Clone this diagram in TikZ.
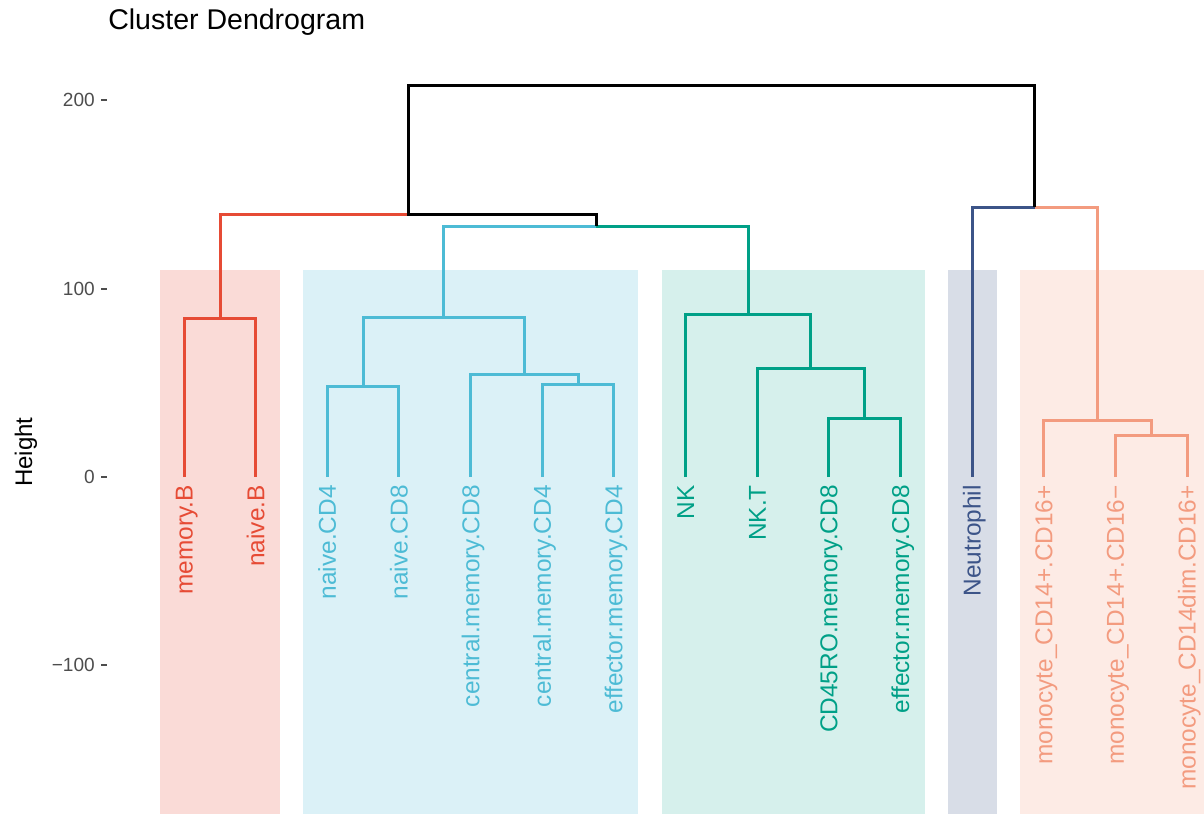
\documentclass[tikz,border=0pt]{standalone}
\usepackage{fontspec}
\setmainfont{Liberation Sans}
\definecolor{cred}{HTML}{E64B35}
\definecolor{cblue}{HTML}{4DBBD5}
\definecolor{cgreen}{HTML}{00A087}
\definecolor{cnavy}{HTML}{3C5488}
\definecolor{csalmon}{HTML}{F39B7F}
\definecolor{tickgrey}{HTML}{4D4D4D}
\begin{document}
\begin{tikzpicture}[x=0.75pt,y=-0.75pt,
  br/.style={line width=2.25pt, line join=miter, line cap=butt},
  band/.style={fill opacity=0.2},
  leaflab/.style={rotate=90, anchor=base east, inner sep=0pt, font=\fontsize{18.3}{21}\selectfont},
  ticklab/.style={anchor=east, inner sep=0pt, text=tickgrey, font=\fontsize{14.3}{16}\selectfont},
  tickmark/.style={line width=1.1pt, draw=tickgrey}]
\useasboundingbox (0,0) rectangle (1204,814);
% cluster bands
\fill[cred, band] (160,270) rectangle (280,814);
\fill[cblue, band] (303,270) rectangle (638,814);
\fill[cgreen, band, fill opacity=0.16] (662,270) rectangle (925,814);
\fill[cnavy, band] (948,270) rectangle (997,814);
\fill[csalmon, band] (1020,270) rectangle (1204,814);
% title and axis
\node[anchor=base west, inner sep=0pt, font=\fontsize{21.4}{24}\selectfont] (title) at (108,29) {Cluster Dendrogram};
\node[rotate=90, anchor=base, inner sep=0pt, font=\fontsize{18}{20}\selectfont] (ylab) at (32,452) {Height};
\node[ticklab] (t200) at (95,100) {200};
\node[ticklab] (t100) at (95,289) {100};
\node[ticklab] (t0) at (95,477) {0};
\node[ticklab] (tm100) at (95,665) {−100};
\coordinate (k200) at (101,100); \coordinate (k100) at (101,289);
\coordinate (k0) at (101,477); \coordinate (km100) at (101,665);
\draw[tickmark] (k200) -- ++(6,0);
\draw[tickmark] (k100) -- ++(6,0);
\draw[tickmark] (k0) -- ++(6,0);
\draw[tickmark] (km100) -- ++(6,0);
% leaves
\coordinate (L0) at (184,477);
\coordinate (L1) at (255.6,477);
\coordinate (L2) at (327.3,477);
\coordinate (L3) at (398.9,477);
\coordinate (L4) at (470.6,477);
\coordinate (L5) at (542.2,477);
\coordinate (L6) at (613.8,477);
\coordinate (L7) at (685.5,477);
\coordinate (L8) at (757.1,477);
\coordinate (L9) at (828.8,477);
\coordinate (L10) at (900.4,477);
\coordinate (L11) at (972,477);
\coordinate (L12) at (1043.7,477);
\coordinate (L13) at (1115.3,477);
\coordinate (L14) at (1187,477);
% merge points
\coordinate (mB) at (220,318);
\coordinate (mN48) at (363.1,386);
\coordinate (mCE4) at (578,384);
\coordinate (mCM8) at (524.3,374);
\coordinate (mBlue) at (443.7,317);
\coordinate (mCDE) at (864.6,418);
\coordinate (mNKT) at (810.9,368);
\coordinate (mGreen) at (748.2,314);
\coordinate (mBG) at (596,226);
\coordinate (mBT) at (408,214);
\coordinate (mMono2) at (1151.2,435);
\coordinate (mMono) at (1097.4,420.5);
\coordinate (mNM) at (1034.7,207);
\coordinate (mTop) at (721,85);
% red
\draw[br, cred] (L0) |- (mB) -| (L1);
\draw[br, cred] (mB) |- (mBT);
% blue
\draw[br, cblue] (L2) |- (mN48) -| (L3);
\draw[br, cblue] (L5) |- (mCE4) -| (L6);
\draw[br, cblue] (L4) |- (mCM8) -| (mCE4);
\draw[br, cblue] (mN48) |- (mBlue) -| (mCM8);
\draw[br, cblue] (mBlue) |- (mBG);
% green
\draw[br, cgreen] (L9) |- (mCDE) -| (L10);
\draw[br, cgreen] (L8) |- (mNKT) -| (mCDE);
\draw[br, cgreen] (L7) |- (mGreen) -| (mNKT);
\draw[br, cgreen] (mGreen) |- (mBG);
% navy
\draw[br, cnavy] (L11) |- (mNM);
% salmon
\draw[br, csalmon] (L13) |- (mMono2) -| (L14);
\draw[br, csalmon] (L12) |- (mMono) -| (mMono2);
\draw[br, csalmon] (mMono) |- (mNM);
% black
\draw[br, black] (mBG) |- (mBT) |- (mTop) -| (mNM);
% labels
\tikzset{labat/.style={xshift=6.5pt,yshift=-6pt}}
\node[leaflab, text=cred] (lab0) at ([labat]L0) {memory.B};
\node[leaflab, text=cred] (lab1) at ([labat]L1) {naive.B};
\node[leaflab, text=cblue] (lab2) at ([labat]L2) {naive.CD4};
\node[leaflab, text=cblue] (lab3) at ([labat]L3) {naive.CD8};
\node[leaflab, text=cblue] (lab4) at ([labat]L4) {central.memory.CD8};
\node[leaflab, text=cblue] (lab5) at ([labat]L5) {central.memory.CD4};
\node[leaflab, text=cblue] (lab6) at ([labat]L6) {effector.memory.CD4};
\node[leaflab, text=cgreen] (lab7) at ([labat]L7) {NK};
\node[leaflab, text=cgreen] (lab8) at ([labat]L8) {NK.T};
\node[leaflab, text=cgreen] (lab9) at ([labat]L9) {CD45RO.memory.CD8};
\node[leaflab, text=cgreen] (lab10) at ([labat]L10) {effector.memory.CD8};
\node[leaflab, text=cnavy] (lab11) at ([labat]L11) {Neutrophil};
\node[leaflab, text=csalmon] (lab12) at ([labat]L12) {monocyte\_CD14+.CD16+};
\node[leaflab, text=csalmon] (lab13) at ([labat]L13) {monocyte\_CD14+.CD16−};
\node[leaflab, text=csalmon] (lab14) at ([labat]L14) {monocyte\_CD14dim.CD16+};
\end{tikzpicture}
\end{document}
